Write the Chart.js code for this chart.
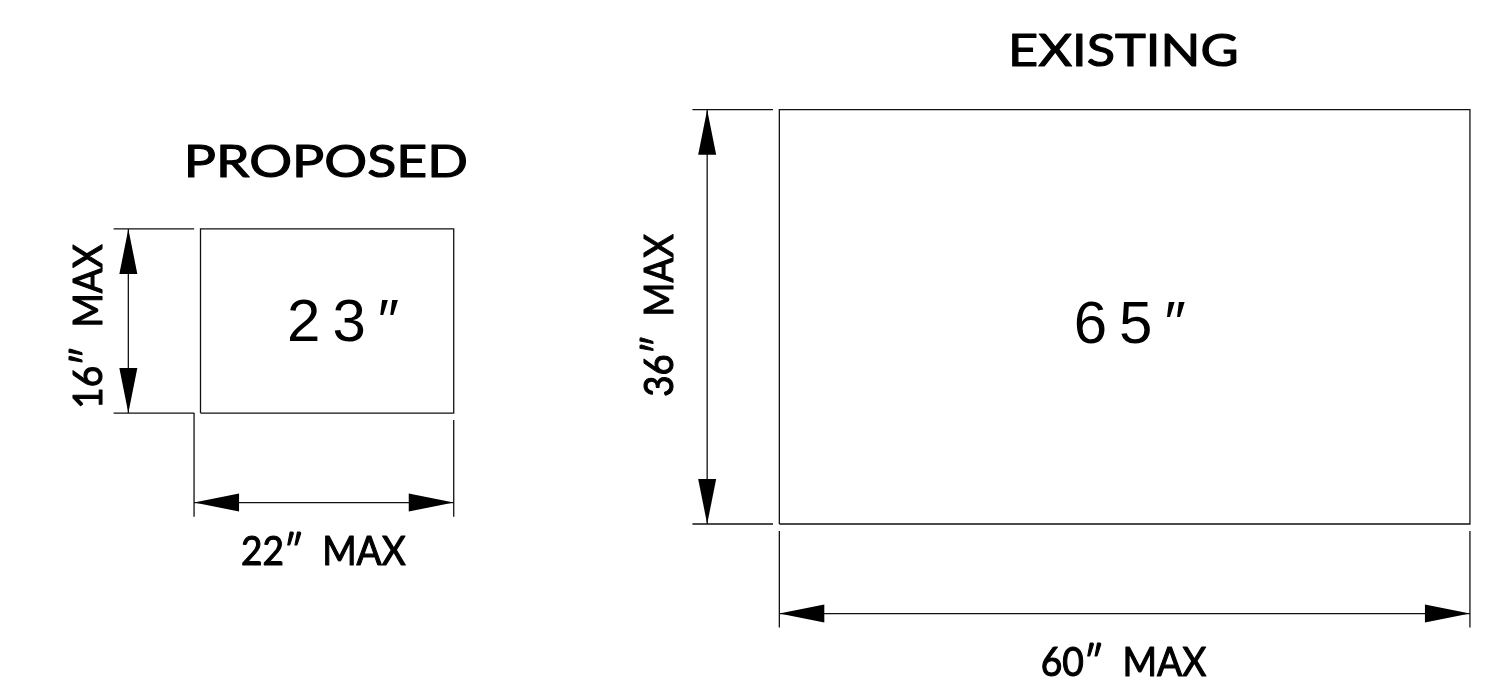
<!DOCTYPE html>
<html>
<head>
<meta charset="utf-8">
<script src="https://cdn.jsdelivr.net/npm/chart.js@4.4.1/dist/chart.umd.min.js"></script>
<style>
  html, body { margin: 0; padding: 0; background: #fff; }
  #wrap { width: 1501px; height: 699px; position: relative; }
</style>
</head>
<body>
<div id="wrap"><canvas id="drawing"></canvas></div>
<script>
// sizes, in inches
var titles = ["PROPOSED", "EXISTING"];
var widths = [22, 60];
var heights = [16, 36];
var diagonals = [23, 65];

// layout (plot units are inches, 11.51 px per inch on both axes)
var pxPerIn = 11.51;
var originX = [0, 50.29];
var originY = [9.64, 0];
var leftExtShift = [-0.56, 0];   // proposed width dim starts at the step corner
var leftExtGap = [0, 0.6];
var extGap = 0.6, extEnd = 9.0, dimBelow = 7.78;
var sideGap = 0.55, sideEnd = 7.55, dimLeft = 6.27;

var titleLift = [52.3, 43.3];
var titleWidth = [277, 224];
var diagDx = [-40, -51], diagDy = [20.5, 26];
var sideLabelDx = [26.6, 34.3], sideLabelDy = [4, -2];
var ink = "#111";

var xMin = -200.5 / pxPerIn, xMax = xMin + 1501 / pxPerIn;
var yMax = 524 / pxPerIn, yMin = yMax - 699 / pxPerIn;

var datasets = [];
var dims = [];

function seg(pts, width) {
  datasets.push({
    data: pts.map(function (p) { return { x: p[0], y: p[1] }; }),
    showLine: true,
    borderColor: ink,
    borderWidth: width || 1.3,
    pointRadius: 0,
    fill: false,
    tension: 0,
    borderCapStyle: "butt"
  });
}

for (var i = 0; i < titles.length; i++) {
  var x0 = originX[i], y0 = originY[i], w = widths[i], h = heights[i];
  // outline
  seg([[x0, y0], [x0 + w, y0], [x0 + w, y0 + h], [x0, y0 + h], [x0, y0]]);
  // extension lines for the height
  seg([[x0 - sideEnd, y0 + h], [x0 - sideGap, y0 + h]]);
  seg([[x0 - sideEnd, y0], [x0 - sideGap, y0]]);
  // extension lines for the width
  var xl = x0 + leftExtShift[i];
  seg([[xl, y0 - leftExtGap[i]], [xl, y0 - extEnd]]);
  seg([[x0 + w, y0 - extGap], [x0 + w, y0 - extEnd]]);
  // dimension lines
  seg([[x0 - dimLeft, y0], [x0 - dimLeft, y0 + h]]);
  seg([[xl, y0 - dimBelow], [x0 + w, y0 - dimBelow]]);
  dims.push({ a: [x0 - dimLeft, y0], b: [x0 - dimLeft, y0 + h] });
  dims.push({ a: [xl, y0 - dimBelow], b: [x0 + w, y0 - dimBelow] });
}

function arrowHead(ctx, tx, ty, dx, dy) {
  var len = 45, half = 9;
  var bx = tx + dx * len, by = ty + dy * len;
  ctx.beginPath();
  ctx.moveTo(tx, ty);
  ctx.lineTo(bx - dy * half, by + dx * half);
  ctx.lineTo(bx + dy * half, by - dx * half);
  ctx.closePath();
  ctx.fill();
}

// draws text with its ink centred on x and stretched to a given width
function fitText(ctx, text, x, y, size, width, angle) {
  ctx.save();
  ctx.font = size + "px Lato, sans-serif";
  ctx.textAlign = "left";
  ctx.textBaseline = "alphabetic";
  var m = ctx.measureText(text);
  var l = m.actualBoundingBoxLeft, r = m.actualBoundingBoxRight;
  ctx.translate(x, y);
  ctx.rotate(angle || 0);
  ctx.scale(width / (l + r), 1);
  ctx.lineWidth = 1.1;
  ctx.lineJoin = "round";
  ctx.strokeStyle = "#000";
  ctx.fillText(text, -(r - l) / 2, 0);
  ctx.strokeText(text, -(r - l) / 2, 0);
  ctx.restore();
}

var drawingPlugin = {
  id: "drawing",
  afterDatasetsDraw: function (chart) {
    var ctx = chart.ctx, xs = chart.scales.x, ys = chart.scales.y;
    ctx.save();
    ctx.fillStyle = "#000";
    dims.forEach(function (d) {
      var ax = xs.getPixelForValue(d.a[0]), ay = ys.getPixelForValue(d.a[1]);
      var bx = xs.getPixelForValue(d.b[0]), by = ys.getPixelForValue(d.b[1]);
      var L = Math.hypot(bx - ax, by - ay), ux = (bx - ax) / L, uy = (by - ay) / L;
      arrowHead(ctx, ax, ay, ux, uy);
      arrowHead(ctx, bx, by, -ux, -uy);
    });

    for (var i = 0; i < titles.length; i++) {
      var x0 = originX[i], y0 = originY[i], w = widths[i], h = heights[i];
      var cx = xs.getPixelForValue(x0 + w / 2);
      var cy = ys.getPixelForValue(y0 + h / 2);
      var top = ys.getPixelForValue(y0 + h);
      fitText(ctx, titles[i], cx, top - titleLift[i], 44.7, titleWidth[i]);

      // diagonal size
      ctx.save();
      ctx.font = "60px 'Liberation Sans', Arial, sans-serif";
      ctx.letterSpacing = "12px";
      ctx.textAlign = "left";
      ctx.fillText(diagonals[i] + "″", cx + diagDx[i], cy + diagDy[i]);
      ctx.restore();

      // width label under the width dimension
      var xl = x0 + leftExtShift[i];
      var mx = (xs.getPixelForValue(xl) + xs.getPixelForValue(x0 + w)) / 2;
      var dy = ys.getPixelForValue(y0 - dimBelow);
      fitText(ctx, widths[i] + "″  MAX", mx, dy + 62, 39.8, 164);

      // height label, rotated, left of the height dimension
      var dx = xs.getPixelForValue(x0 - dimLeft);
      fitText(ctx, heights[i] + "″  MAX", dx - sideLabelDx[i], cy + sideLabelDy[i], 39.8, 162, -Math.PI / 2);
    }
    ctx.restore();
  }
};

new Chart(document.getElementById("drawing").getContext("2d"), {
  type: "scatter",
  data: { datasets: datasets },
  options: {
    responsive: true,
    maintainAspectRatio: false,
    animation: false,
    events: [],
    layout: { padding: 0 },
    plugins: { legend: { display: false }, tooltip: { enabled: false } },
    scales: {
      x: { type: "linear", display: false, min: xMin, max: xMax },
      y: { type: "linear", display: false, min: yMin, max: yMax }
    }
  },
  plugins: [drawingPlugin]
});
</script>
</body>
</html>
